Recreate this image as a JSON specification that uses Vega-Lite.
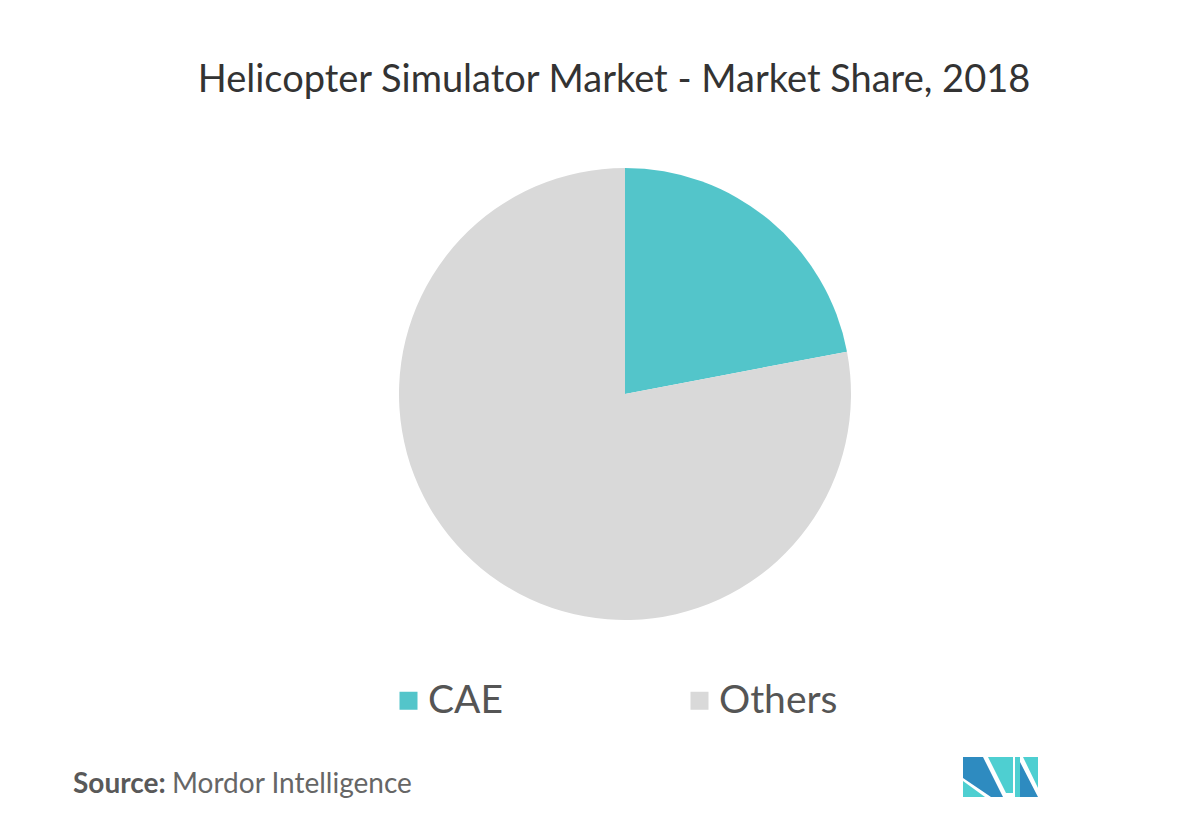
{
  "$schema": "https://vega.github.io/schema/vega-lite/v6.json",
  "width": 452,
  "height": 452,
  "autosize": {"type": "none"},
  "padding": {"left": 399, "top": 168, "right": 340, "bottom": 202},
  "background": "white",
  "title": {
    "text": "Helicopter Simulator Market - Market Share, 2018",
    "font": "Lato",
    "fontSize": 38,
    "fontWeight": "normal",
    "color": "#333333",
    "anchor": "middle",
    "baseline": "alphabetic",
    "offset": 38,
    "dx": -11
  },
  "config": {"view": {"stroke": null}},
  "resolve": {"scale": {"fill": "independent"}, "legend": {"fill": "independent"}},
  "layer": [
    {
      "data": {"values": [
        {"company": "CAE", "share": 22},
        {"company": "Others", "share": 78}
      ]},
      "mark": {"type": "arc"},
      "encoding": {
        "theta": {"field": "share", "type": "quantitative", "stack": true},
        "color": {
          "field": "company",
          "type": "nominal",
          "scale": {"domain": ["CAE", "Others"], "range": ["#53c5ca", "#d9d9d9"]},
          "legend": {
            "title": null,
            "orient": "none",
            "legendX": -10,
            "legendY": 513,
            "direction": "horizontal",
            "symbolType": "square",
            "symbolSize": 324,
            "symbolStrokeWidth": 0,
            "labelFont": "Lato",
            "labelFontSize": 39,
            "labelColor": "#555555",
            "labelOffset": 0,
            "columnPadding": 177
          }
        }
      }
    },
    {
      "data": {"values": [{"source": "Mordor Intelligence"}]},
      "mark": {"type": "point", "opacity": 0},
      "encoding": {
        "shape": {
          "field": "source",
          "type": "nominal",
          "legend": {
            "title": "Source:",
            "titleOrient": "left",
            "orient": "none",
            "legendX": -326,
            "legendY": 603,
            "titleFont": "Lato",
            "titleFontSize": 28,
            "titleFontWeight": "bold",
            "titleColor": "#595959",
            "labelFont": "Lato",
            "labelFontSize": 28,
            "labelColor": "#666666",
            "labelLimit": 400,
            "symbolSize": 0,
            "symbolOpacity": 0,
            "labelOffset": 0,
            "titlePadding": -22
          }
        }
      }
    },
    {
      "data": {"values": [{"logo": "dark"}]},
      "mark": {"type": "point", "opacity": 0, "filled": true},
      "encoding": {
        "fill": {
          "field": "logo",
          "type": "nominal",
          "scale": {"range": ["#2e8bc0"]},
          "legend": {
            "title": null,
            "orient": "none",
            "legendX": 600,
            "legendY": 608,
            "symbolType": "M-37,-20L-17,-20L3,20L-9,20L-37,1Z M20,-15L38,20L20,20Z",
            "symbolSize": 4,
            "symbolOpacity": 1,
            "symbolStrokeWidth": 0,
            "labelExpr": "''",
            "labelFontSize": 2
          }
        }
      }
    },
    {
      "data": {"values": [{"logo2": "teal"}]},
      "mark": {"type": "point", "opacity": 0, "filled": true},
      "encoding": {
        "fill": {
          "field": "logo2",
          "type": "nominal",
          "scale": {"range": ["#4ecfd1"]},
          "legend": {
            "title": null,
            "orient": "none",
            "legendX": 600,
            "legendY": 608,
            "symbolType": "M-37,4L-37,20L-15,20Z M-12,-20L13,-20L13,16L6,16Z M15,-20L20,-20L20,20L15,20Z M23,-20L38,-20L38,11Z",
            "symbolSize": 4,
            "symbolOpacity": 1,
            "symbolStrokeWidth": 0,
            "labelExpr": "''",
            "labelFontSize": 2
          }
        }
      }
    }
  ]
}
